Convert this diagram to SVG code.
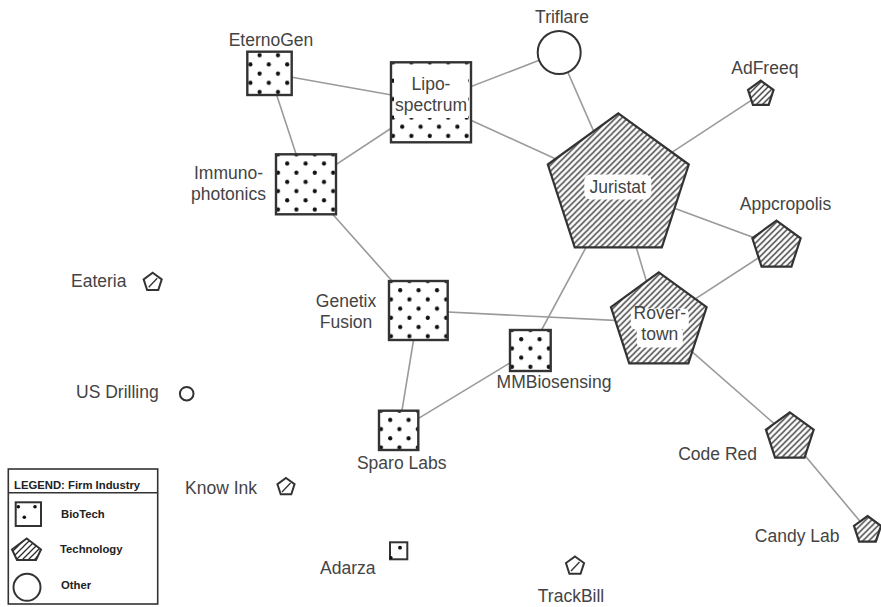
<svg xmlns="http://www.w3.org/2000/svg" width="881" height="607" viewBox="0 0 881 607">
<style>
.edge{stroke:#9a9a9a;stroke-width:1.6;fill:none}
.bio{fill:url(#dots);stroke:#333;stroke-width:2.4}
.tech{fill:url(#hatch);stroke:#333;stroke-width:2.2;stroke-linejoin:miter}
.small{fill:#fff;stroke:#333;stroke-width:2}
.other{fill:#fff;stroke:#333;stroke-width:2}
.lbl{font-family:"Liberation Sans",Arial,sans-serif;font-size:17.5px;fill:#444}
.mid{text-anchor:middle}
.end{text-anchor:end}
.leg{font-family:"Liberation Sans",Arial,sans-serif;font-size:11.3px;font-weight:bold;fill:#222}
.blank{fill:#fff;stroke:none}
.dot{fill:#111}
.hl{stroke:#333;stroke-width:1.3}
</style>
<defs>
<pattern id="dots" patternUnits="userSpaceOnUse" x="-2.6" y="-4.6" width="18.4" height="18.4">
<rect width="18.4" height="18.4" fill="#fff"/>
<circle cx="4.6" cy="4.6" r="2.1" fill="#111"/>
<circle cx="13.8" cy="13.8" r="2.1" fill="#111"/>
</pattern>
<pattern id="hatch" patternUnits="userSpaceOnUse" width="6" height="6">
<rect width="6" height="6" fill="#fff"/>
<path d="M0,6 L6,0 M-1,1 L1,-1 M5,7 L7,5" stroke="#2a2a2a" stroke-width="1.25"/>
</pattern>
</defs>
<rect width="881" height="607" fill="#fff"/>

<g id="connectors">
<line class="edge" x1="269.5" y1="73.3" x2="431" y2="102"/>
<line class="edge" x1="269.5" y1="73.3" x2="306" y2="184.3"/>
<line class="edge" x1="306" y1="184.3" x2="431" y2="102"/>
<line class="edge" x1="431" y1="102" x2="559.2" y2="52.5"/>
<line class="edge" x1="431" y1="102" x2="618.3" y2="187.4"/>
<line class="edge" x1="559.2" y1="52.5" x2="618.3" y2="187.4"/>
<line class="edge" x1="618.3" y1="187.4" x2="760.8" y2="94.1"/>
<line class="edge" x1="618.3" y1="187.4" x2="776.5" y2="246.1"/>
<line class="edge" x1="618.3" y1="187.4" x2="658.8" y2="322.6"/>
<line class="edge" x1="618.3" y1="187.4" x2="530.5" y2="350.5"/>
<line class="edge" x1="306" y1="184.3" x2="418.4" y2="310.5"/>
<line class="edge" x1="418.4" y1="310.5" x2="658.8" y2="322.6"/>
<line class="edge" x1="418.4" y1="310.5" x2="398.7" y2="430.4"/>
<line class="edge" x1="530.5" y1="350.5" x2="398.7" y2="430.4"/>
<line class="edge" x1="658.8" y1="322.6" x2="776.5" y2="246.1"/>
<line class="edge" x1="658.8" y1="322.6" x2="789.8" y2="437.4"/>
<line class="edge" x1="789.8" y1="437.4" x2="867.5" y2="530.2"/>
</g>

<g id="eternogen">
<rect class="bio" x="247.3" y="51.7" width="44.4" height="43.3"/>
<text class="lbl mid" x="271" y="46">EternoGen</text>
</g>
<g id="lipospectrum">
<g transform="translate(391,62.3)"><rect class="bio" width="80" height="80"/></g>
<rect class="blank" x="394" y="67" width="74" height="51"/>
<text class="lbl mid" x="431" y="90">Lipo-</text>
<text class="lbl mid" x="431" y="110.7">spectrum</text>
</g>
<g id="triflare">
<circle class="other" cx="559.2" cy="52.5" r="21.5"/>
<text class="lbl mid" x="562" y="23">Triflare</text>
</g>
<g id="adfreeq" transform="translate(760.8,94.1)">
<polygon class="tech" points="0,-13.4 12.74,-4.14 7.88,10.84 -7.88,10.84 -12.74,-4.14"/>
<text class="lbl mid" x="4" y="-20">AdFreeq</text>
</g>
<g id="juristat" transform="translate(618.3,187.4)">
<polygon class="tech" points="0,-74.1 70.48,-22.9 43.56,59.95 -43.56,59.95 -70.48,-22.9"/>
<rect class="blank" x="-34" y="-13" width="67" height="25" rx="6"/>
<text class="lbl mid" x="-0.6" y="5.6">Juristat</text>
</g>
<g id="appcropolis" transform="translate(776.5,246.1)">
<polygon class="tech" points="0,-25.4 24.16,-7.85 14.93,20.55 -14.93,20.55 -24.16,-7.85"/>
<text class="lbl mid" x="9" y="-36">Appcropolis</text>
</g>
<g id="immunophotonics">
<g transform="translate(276,154.3)"><rect class="bio" width="60" height="60"/></g>
<text class="lbl mid" x="228.5" y="179">Immuno-</text>
<text class="lbl mid" x="228.5" y="200">photonics</text>
</g>
<g id="eateria" transform="translate(152.7,282.3)">
<polygon class="small" points="0,-9.5 9.04,-2.94 5.58,7.69 -5.58,7.69 -9.04,-2.94"/>
<line class="hl" x1="-4" y1="5" x2="4.5" y2="-4"/>
<text class="lbl" x="-81.7" y="4.7">Eateria</text>
</g>
<g id="genetixfusion">
<g transform="translate(389,281)"><rect class="bio" width="58.7" height="59"/></g>
<text class="lbl mid" x="346" y="307">Genetix</text>
<text class="lbl mid" x="346" y="328">Fusion</text>
</g>
<g id="rovertown" transform="translate(658.8,322.6)">
<polygon class="tech" points="0,-50.3 47.84,-15.54 29.57,40.69 -29.57,40.69 -47.84,-15.54"/>
<rect class="blank" x="-28" y="-14" width="58" height="21" rx="5"/>
<rect class="blank" x="-22" y="5" width="46" height="20" rx="5"/>
<text class="lbl mid" x="1" y="-3.6">Rover-</text>
<text class="lbl mid" x="1" y="17">town</text>
</g>
<g id="mmbiosensing">
<g transform="translate(510,330)"><rect class="bio" width="40.7" height="41"/></g>
<text class="lbl mid" x="554" y="388">MMBiosensing</text>
</g>
<g id="usdrilling">
<circle class="other" cx="186.7" cy="393.7" r="6.8"/>
<text class="lbl" x="76" y="398">US Drilling</text>
</g>
<g id="sparolabs">
<g transform="translate(379,410.7)"><rect class="bio" width="39.3" height="39.3"/></g>
<text class="lbl mid" x="401.7" y="469">Sparo Labs</text>
</g>
<g id="codered" transform="translate(789.8,437.4)">
<polygon class="tech" points="0,-25.1 23.87,-7.76 14.75,20.31 -14.75,20.31 -23.87,-7.76"/>
<text class="lbl end" x="-32.8" y="22.6">Code Red</text>
</g>
<g id="knowink" transform="translate(286,487)">
<polygon class="small" points="0,-9 8.56,-2.78 5.29,7.28 -5.29,7.28 -8.56,-2.78"/>
<line class="hl" x1="-4" y1="5" x2="4.5" y2="-4"/>
<text class="lbl" x="-101" y="7">Know Ink</text>
</g>
<g id="candylab" transform="translate(867.5,530.2)">
<polygon class="tech" points="0,-14.2 13.51,-4.39 8.35,11.49 -8.35,11.49 -13.51,-4.39"/>
<text class="lbl end" x="-28" y="12">Candy Lab</text>
</g>
<g id="adarza">
<rect class="small" x="390" y="542.3" width="17.3" height="17"/>
<circle class="dot" cx="400" cy="547.7" r="1.9"/>
<circle class="dot" cx="391" cy="557.6" r="1.6"/>
<text class="lbl" x="320" y="574">Adarza</text>
</g>
<g id="trackbill" transform="translate(575,566)">
<polygon class="small" points="0,-9.5 9.04,-2.94 5.58,7.69 -5.58,7.69 -9.04,-2.94"/>
<line class="hl" x1="-4" y1="5" x2="4.5" y2="-4"/>
<text class="lbl mid" x="-4" y="35.5">TrackBill</text>
</g>

<g id="legend">
<rect x="8.3" y="469" width="149.4" height="135" fill="#fff" stroke="#333" stroke-width="1.6"/>
<line x1="8.3" y1="492.7" x2="157.7" y2="492.7" stroke="#333" stroke-width="1.6"/>
<text class="leg" x="14" y="489">LEGEND: Firm Industry</text>
<rect x="15.7" y="502.3" width="25.3" height="23.7" fill="#fff" stroke="#333" stroke-width="2"/>
<circle class="dot" cx="18.3" cy="506.7" r="1.8"/>
<circle class="dot" cx="35" cy="506.7" r="1.8"/>
<circle class="dot" cx="24.3" cy="517.3" r="1.8"/>
<text class="leg" x="61" y="518">BioTech</text>
<polygon points="26.7,538.5 41,549.5 36,560 17,560 12,549.5" fill="url(#hatch)" stroke="#333" stroke-width="2"/>
<text class="leg" x="60" y="553">Technology</text>
<circle cx="27" cy="587.3" r="13.5" fill="#fff" stroke="#333" stroke-width="2"/>
<text class="leg" x="61" y="589">Other</text>
</g>
</svg>
